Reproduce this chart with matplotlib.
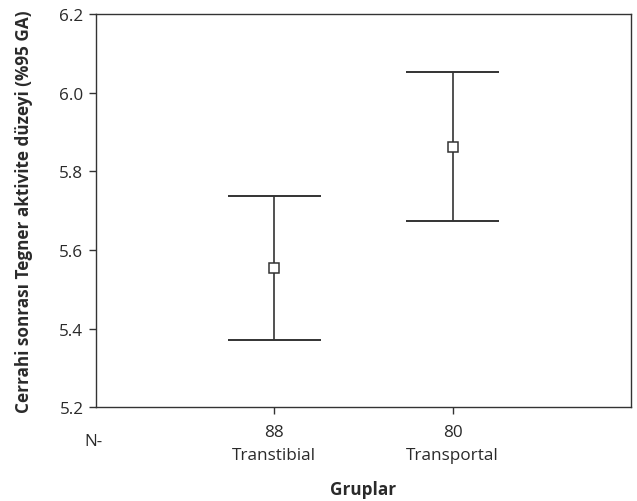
import matplotlib
matplotlib.use("Agg")
import matplotlib.pyplot as plt

plt.rcParams['font.family'] = ['Open Sans', 'DejaVu Sans']

groups = ["Transtibial", "Transportal"]
n_values = [88, 80]
means = [5.553, 5.862]
lower = [5.372, 5.673]
upper = [5.738, 6.052]
yticks = [5.2, 5.4, 5.6, 5.8, 6.0, 6.2]

col = "#333333"
tcol = "#2a2a2a"
fs = 12.3
fig = plt.figure(figsize=(6.37, 5.02), dpi=100)
ax = fig.add_axes([0.1507, 0.187, 0.8399, 0.783])

xs = [1, 2]
half = 0.26
for x, m, lo, hi in zip(xs, means, lower, upper):
    ax.vlines(x, lo, hi, color=col, lw=1.2, zorder=2)
    ax.hlines([lo, hi], x - half, x + half, color=col, lw=1.4, zorder=2)
    ax.plot([x], [m], marker='s', ms=7.5, mfc='white', mec=col, mew=1.1, zorder=3, ls='none')

ax.set_xlim(0, 3.0)
ax.set_ylim(5.2, 6.2)
ax.set_yticks(yticks)
ax.set_yticklabels([f"{v:.1f}" for v in yticks])
ax.set_xticks(xs)
ax.set_xticklabels([f"{n}\n{g}" for n, g in zip(n_values, groups)], linespacing=1.6)
for s in ax.spines.values():
    s.set_color(col)
    s.set_linewidth(1.0)
ax.tick_params(axis='both', direction='out', length=5, width=1.0, color=col,
               labelsize=fs, labelcolor=tcol, pad=4)
ax.tick_params(axis='x', pad=7)
ax.text(-0.005, -0.085, "N-", transform=ax.transAxes, ha='center', va='center',
        fontsize=fs, color=tcol)

ax.set_xlabel("Gruplar", fontsize=fs, fontweight='bold', color=tcol, labelpad=12)
ax.set_ylabel("Cerrahi sonrası Tegner aktivite düzeyi (%95 GA)", fontsize=fs,
              fontweight='bold', color=tcol, labelpad=19)

fig.savefig("out.png", dpi=100)
